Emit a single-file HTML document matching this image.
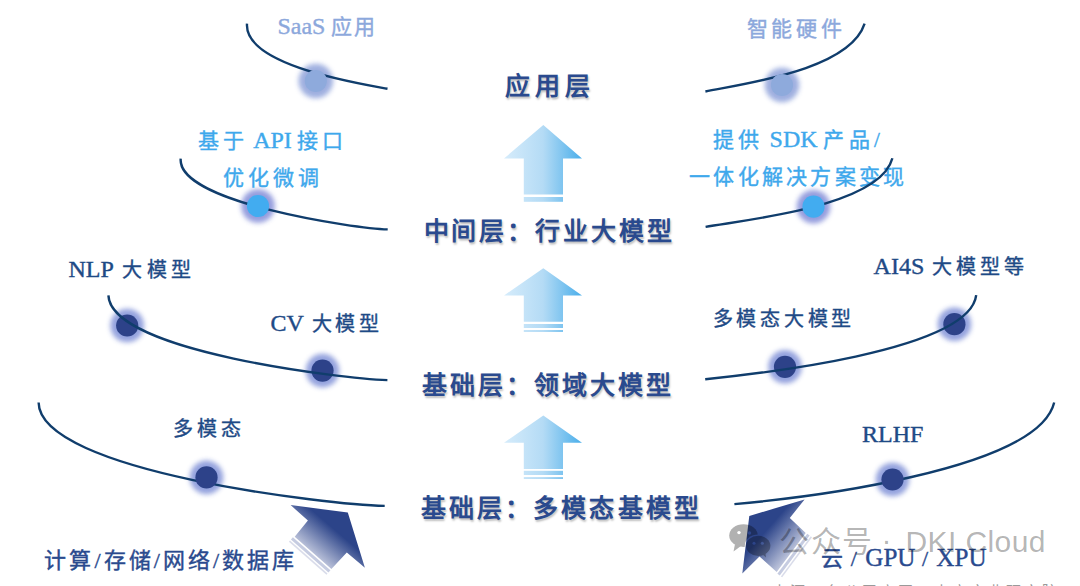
<!DOCTYPE html>
<html lang="zh-CN"><head><meta charset="utf-8">
<style>
html,body{margin:0;padding:0;background:#fff;}
body{width:1080px;height:586px;position:relative;overflow:hidden;font-family:"Liberation Serif",serif;}
svg{position:absolute;left:0;top:0;}
.t{position:absolute;white-space:nowrap;line-height:1;word-spacing:-1px;}
.l{font-size:1.14em;letter-spacing:0!important;}
.navy .l{font-size:1.2em;}
.lite{color:#8ca8dc;font-size:21px;-webkit-text-stroke:0.4px currentColor;}
.sky{color:#3ea8ec;font-size:21px;word-spacing:-4px;-webkit-text-stroke:0.4px currentColor;}
.navy{color:#1e4a86;font-size:20px;-webkit-text-stroke:0.4px currentColor;}
.hd{color:#2a4a8e;font-size:25px;font-weight:bold;text-shadow:1px 2px 2px rgba(0,0,0,0.25);}
.bt{color:#2a4a8e;font-size:22px;-webkit-text-stroke:0.4px currentColor;}
.src{color:#9a9a9a;font-size:15px;font-family:"Liberation Sans",sans-serif;letter-spacing:3px;}
.wm{position:absolute;white-space:nowrap;line-height:1;font-family:"Liberation Sans",sans-serif;color:rgba(0,0,0,0.3);font-size:30px;}
</style></head><body>
<svg width="1080" height="586" viewBox="0 0 1080 586">
<defs>
<linearGradient id="up" gradientUnits="userSpaceOnUse" x1="504" y1="0" x2="582" y2="0">
<stop offset="0" stop-color="#d6ecfb"/><stop offset="0.5" stop-color="#b4dbf5"/><stop offset="1" stop-color="#4aaeea"/>
</linearGradient>
<linearGradient id="dl" gradientUnits="userSpaceOnUse" x1="347.8" y1="512.5" x2="311" y2="555.5">
<stop offset="0.38" stop-color="#2c4489"/><stop offset="1" stop-color="#c5cbe0"/>
</linearGradient>
<linearGradient id="dr" gradientUnits="userSpaceOnUse" x1="749.3" y1="515.9" x2="793.5" y2="554.5">
<stop offset="0.38" stop-color="#2c4489"/><stop offset="1" stop-color="#c5cbe0"/>
</linearGradient>
<filter id="blur" x="-50%" y="-50%" width="200%" height="200%"><feGaussianBlur stdDeviation="2.8"/></filter>
</defs>
<!-- glows -->
<g>
<circle cx="127.2" cy="325.5" r="16.8" fill="#8e9ddc" opacity="0.95" filter="url(#blur)"/>
<circle cx="322.5" cy="370.6" r="16.8" fill="#8e9ddc" opacity="0.95" filter="url(#blur)"/>
<circle cx="785" cy="366.8" r="16.8" fill="#8e9ddc" opacity="0.95" filter="url(#blur)"/>
<circle cx="954.4" cy="324.2" r="16.8" fill="#8e9ddc" opacity="0.95" filter="url(#blur)"/>
<circle cx="315.8" cy="81" r="17.3" fill="#9aabde" opacity="0.95" filter="url(#blur)"/>
<circle cx="782" cy="85" r="17.3" fill="#9aabde" opacity="0.95" filter="url(#blur)"/>
<circle cx="258" cy="206" r="16.8" fill="#8f98dc" opacity="0.95" filter="url(#blur)"/>
<circle cx="813.5" cy="206.7" r="16.8" fill="#8f98dc" opacity="0.95" filter="url(#blur)"/>
<circle cx="206.5" cy="477.4" r="16.8" fill="#8e9ddc" opacity="0.95" filter="url(#blur)"/>
<circle cx="892.5" cy="479.5" r="16.8" fill="#8e9ddc" opacity="0.95" filter="url(#blur)"/>
</g>
<!-- dots under lines (row 3) -->
<g>
<circle cx="127.2" cy="325.5" r="11.1" fill="#2d4289"/>
<circle cx="322.5" cy="370.6" r="11.1" fill="#2d4289"/>
<circle cx="785" cy="366.8" r="11.1" fill="#2d4289"/>
<circle cx="954.4" cy="324.2" r="11.1" fill="#2d4289"/>
</g>


<!-- up arrows -->
<g fill="url(#up)">
<path d="M543.3,125 L582,158.5 L563,158.5 L563,194.5 L523.8,194.5 L523.8,158.5 L504,158.5 Z"/>
<rect x="523.8" y="197" width="39.2" height="4.8"/>
<path d="M543.3,268.2 L582,295.5 L563,295.5 L563,321.8 L523.8,321.8 L523.8,295.5 L504,295.5 Z"/>
<rect x="523.8" y="324" width="39.2" height="4"/>
<rect x="523.8" y="330" width="39.2" height="2"/>
<path d="M543.3,415.4 L582,442.7 L563,442.7 L563,469.1 L523.8,469.1 L523.8,442.7 L504,442.7 Z"/>
<rect x="523.8" y="470.8" width="39.2" height="4.2"/>
<rect x="523.8" y="477.1" width="39.2" height="1.9"/>
</g>
<!-- diagonal arrows -->
<path fill="url(#dl)" d="M290.6,505.1 L347.8,512.5 L364.9,567.8 L346.8,552.6 L331.4,569 L294.7,536.7 L307.9,520.6 Z"/>
<g transform="translate(294.7,536.7) rotate(41.35)"><rect x="-1" y="1.6" width="50" height="3" fill="#c6cce1"/><rect x="-1" y="6" width="50" height="1.6" fill="#d9dcea"/></g>
<path fill="url(#dr)" d="M804.6,499.5 L749.3,515.9 L742.3,573.6 L759.5,556.4 L776.7,572 L805.7,533 L789.8,517.9 Z"/>
<g transform="translate(776.7,572) rotate(-53.37)"><rect x="-1" y="1.6" width="50" height="3" fill="#c6cce1"/><rect x="-1" y="6" width="50" height="1.6" fill="#d9dcea"/></g>
</svg>
<div class="t lite" style="left:277.5px;top:14.6px;letter-spacing:1.83px"><span class="l">SaaS</span> 应用</div>
<div class="t lite" style="left:746.5px;top:19.0px;letter-spacing:3.67px">智能硬件</div>
<div class="t sky" style="left:198.0px;top:129.0px;letter-spacing:4.00px">基于 <span class="l">API</span> 接口</div>
<div class="t sky" style="left:223.0px;top:168.0px;letter-spacing:4.00px">优化微调</div>
<div class="t sky" style="left:713.0px;top:128.4px;letter-spacing:4.44px">提供 <span class="l">SDK</span> 产品/</div>
<div class="t sky" style="left:689.0px;top:167.0px;letter-spacing:3.25px">一体化解决方案变现</div>
<div class="t navy" style="left:68.5px;top:257.4px;letter-spacing:4.51px"><span class="l">NLP</span> 大模型</div>
<div class="t navy" style="left:270.5px;top:311.4px;letter-spacing:3.80px"><span class="l">CV</span> 大模型</div>
<div class="t navy" style="left:712.6px;top:309.0px;letter-spacing:3.76px">多模态大模型</div>
<div class="t navy" style="left:873.6px;top:253.6px;letter-spacing:3.83px"><span class="l">AI4S</span> 大模型等</div>
<div class="t navy" style="left:173.0px;top:419.4px;letter-spacing:4.00px">多模态</div>
<div class="t navy" style="left:862.0px;top:422.0px;letter-spacing:4.80px"><span class="l">RLHF</span></div>
<div class="t hd" style="left:505.3px;top:74.0px;letter-spacing:4.70px">应用层</div>
<div class="t hd" style="left:423.5px;top:218.5px;letter-spacing:2.88px">中间层：行业大模型</div>
<div class="t hd" style="left:422.0px;top:373.0px;letter-spacing:3.00px">基础层：领域大模型</div>
<div class="t hd" style="left:421.1px;top:496.0px;letter-spacing:3.06px">基础层：多模态基模型</div>
<div class="t bt" style="left:44.3px;top:549.9px;letter-spacing:3.05px">计算/存储/网络/数据库</div>
<div class="t bt" style="left:820.5px;top:545.4px;letter-spacing:1.92px">云 / <span class="l">GPU</span> / <span class="l">XPU</span></div>
<svg class="ov" width="1080" height="586" viewBox="0 0 1080 586" style="position:absolute;left:0;top:0">
<g fill="none" stroke="#103d6c" stroke-width="2.4" stroke-linecap="butt">
<path d="M247.0,23.7 C244.0,65.5 359.4,83.5 387.5,88.8"/>
<path d="M705.4,91.5 C745.9,83.3 849.6,69.9 864.6,23.7"/>
<path d="M180.7,158.7 C176.9,202.8 358.5,229.0 387.7,229.4"/>
<path d="M705.6,226.9 C746.4,219.5 879.7,206.5 892.4,158.3"/>
<path d="M108.4,295.4 C110.9,352.1 346.9,378.9 387.4,380.1"/>
<path d="M705.2,379.3 C751.2,374.5 969.4,351.8 976.2,295.2"/>
<path d="M38.6,402.6 C39.4,472.2 334.4,505.2 384.7,505.9"/>
<path d="M734.4,504.1 C797.1,498.5 1037.5,471.4 1054.2,402.5"/>
</g>
<!-- dots over lines -->
<g>
<circle cx="315.8" cy="81" r="11.1" fill="#8eaadc"/>
<circle cx="782" cy="85" r="11.1" fill="#8eaadc"/>
<circle cx="258" cy="206" r="11.1" fill="#42acf0"/>
<circle cx="813.5" cy="206.7" r="11.1" fill="#42acf0"/>
<circle cx="206.5" cy="477.4" r="11.1" fill="#2d4289"/>
<circle cx="892.5" cy="479.5" r="11.1" fill="#2d4289"/>
</g>
</svg>
<div class="src" style="position:absolute;white-space:nowrap;line-height:1;left:772px;top:584px">来源：各公司官网，中商产业研究院，招商证券，浙商证券研究所整理</div>
<svg class="wmi" width="1080" height="586" viewBox="0 0 1080 586" style="position:absolute;left:0;top:0">
<defs><mask id="eyes" maskUnits="userSpaceOnUse" x="0" y="0" width="1080" height="586">
<rect x="0" y="0" width="1080" height="586" fill="#fff"/>
<circle cx="739" cy="532.6" r="1.7" fill="#000"/><circle cx="749.5" cy="533" r="1.7" fill="#000"/>
<circle cx="754" cy="543.2" r="1.5" fill="#000"/><circle cx="762.3" cy="543.2" r="1.5" fill="#000"/>
</mask>
<mask id="cut" maskUnits="userSpaceOnUse" x="0" y="0" width="1080" height="586">
<rect x="0" y="0" width="1080" height="586" fill="#fff"/>
<ellipse cx="758.2" cy="545.8" rx="13.4" ry="11.3" fill="#000"/>
</mask></defs>
<g opacity="0.3" mask="url(#eyes)">
<g mask="url(#cut)">
<ellipse cx="743.5" cy="535.6" rx="14.3" ry="11.3" fill="#000"/>
<path d="M735,544 L733.5,551.5 L741,546 Z" fill="#000"/>
</g>
<ellipse cx="758.2" cy="545.8" rx="12.2" ry="10.1" fill="#000"/>
<path d="M761,553 L766,557.5 L765,550 Z" fill="#000"/>
</g>
</svg>
<div class="wm" id="wm1" style="left:779px;top:526.5px;letter-spacing:1.5px">公众号</div>
<div class="wm" id="wm2" style="left:881.5px;top:524.5px">·</div>
<div class="wm" id="wm3" style="left:905.5px;top:526.8px;letter-spacing:0.4px">DKI Cloud</div>
</body></html>
